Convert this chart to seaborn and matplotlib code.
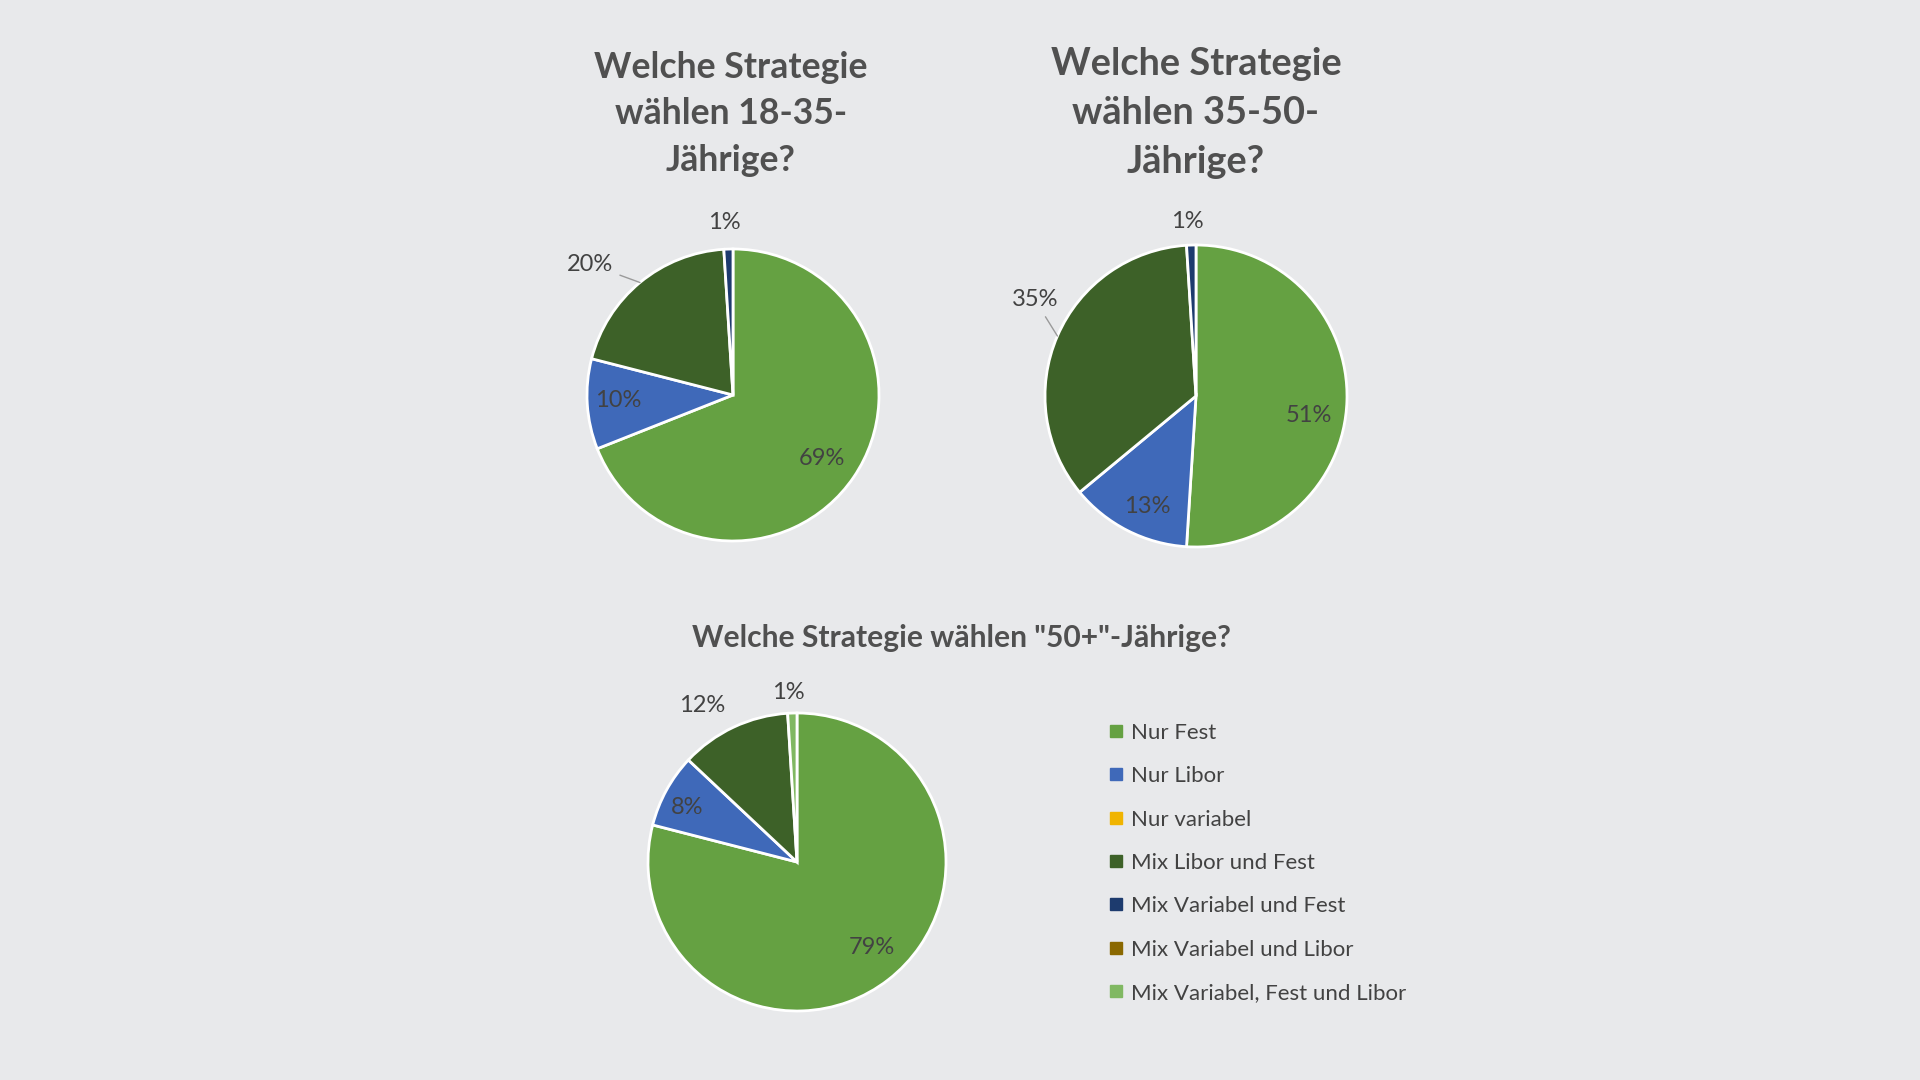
import numpy as np
import seaborn as sns
import matplotlib.pyplot as plt
from matplotlib.lines import Line2D

# categories and colours (Excel look)
categories = ['Nur Fest', 'Nur Libor', 'Nur variabel', 'Mix Libor und Fest',
              'Mix Variabel und Fest', 'Mix Variabel und Libor',
              'Mix Variabel, Fest und Libor']
colors = ['#65a142', '#3f69b9', '#f0b400', '#3d6128', '#1d3b6e', '#8a6800', '#80b862']

# shares in percent per age group
young = [69, 10, 0, 20, 1, 0, 0]
middle = [51, 13, 0, 35, 1, 0, 0]
senior = [79, 8, 0, 12, 0, 0, 1]

title_young = 'Welche Strategie\nwählen 18-35-\nJährige?'
title_middle = 'Welche Strategie\nwählen 35-50-\nJährige?'
title_senior = 'Welche Strategie wählen "50+"-Jährige?'

# label placement per slice: distance from centre (in radii, < 1 inside),
# angle nudge in degrees, leader line flag
dist_young = [0.75, 0.79, 0, 1.33, 1.18, 0, 0]
turn_young = [-1.5, -1, 0, 8, 1, 0, 0]
lead_young = [False, False, False, True, False, False, False]
dist_middle = [0.76, 0.80, 0, 1.245, 1.16, 0, 0]
turn_middle = [-8, 3, 0, -7.5, 1, 0, 0]
lead_middle = [False, False, False, True, False, False, False]
dist_senior = [0.76, 0.82, 0, 1.23, 0, 0, 1.14]
turn_senior = [3.5, 2.5, 0, 6, 0, 0, 1]
lead_senior = [False] * 7

BG = '#e8e9eb'
TXT = '#424242'
W, H = 1920, 1080

sns.set_theme(style='white', rc={'figure.facecolor': BG, 'axes.facecolor': BG})
plt.rcParams['font.family'] = ['Lato', 'DejaVu Sans']

fig = plt.figure(figsize=(19.2, 10.8), dpi=100)


def draw_pie(values, dists, turns, leads, cx, cy, r):
    ax = fig.add_axes([(cx - 1.5 * r) / W, 1 - (cy + 1.5 * r) / H, 3 * r / W, 3 * r / H])
    idx = [i for i, v in enumerate(values) if v > 0]
    wedges, _ = ax.pie([values[i] for i in idx], colors=[colors[i] for i in idx],
                       startangle=90, counterclock=False,
                       wedgeprops=dict(edgecolor='white', linewidth=2))
    ax.set_xlim(-1.5, 1.5)
    ax.set_ylim(-1.5, 1.5)
    ax.set_aspect('equal')
    ax.axis('off')
    for w, i in zip(wedges, idx):
        mid = np.deg2rad((w.theta1 + w.theta2) / 2)
        theta = mid + np.deg2rad(turns[i])
        d = dists[i]
        pos = (d * np.cos(theta), d * np.sin(theta))
        label = f'{values[i]}%'
        if leads[i]:
            ax.annotate(label, xy=(np.cos(mid), np.sin(mid)), xytext=pos,
                        ha='center', va='center', fontsize=17, color=TXT,
                        arrowprops=dict(arrowstyle='-', color='#9a9a9a', lw=1,
                                        shrinkA=3, shrinkB=0))
        else:
            ax.text(pos[0], pos[1], label, ha='center', va='center',
                    fontsize=17, color=TXT)
    return ax


draw_pie(young, dist_young, turn_young, lead_young, 733, 395, 146)
draw_pie(middle, dist_middle, turn_middle, lead_middle, 1196, 396, 151)
draw_pie(senior, dist_senior, turn_senior, lead_senior, 797, 862, 149)

fig.text(731 / W, 1 - 114 / H, title_young, ha='center', va='center',
         multialignment='center', fontsize=25.7, fontweight='bold', color='#505050',
         linespacing=1.5)
fig.text(1196 / W, 1 - 113 / H, title_middle, ha='center', va='center',
         multialignment='center', fontsize=27.3, fontweight='bold', color='#505050',
         linespacing=1.52)
fig.text(961 / W, 1 - 638 / H, title_senior, ha='center', va='center',
         fontsize=21.6, fontweight='bold', color='#505050')

handles = [Line2D([], [], marker='s', linestyle='', color=c, markersize=8) for c in colors]
fig.legend(handles, categories, loc='upper left', bbox_to_anchor=(1100 / W, 1 - 714 / H),
           frameon=False, fontsize=16, labelcolor=TXT, handlelength=0.6,
           handletextpad=0.4, labelspacing=1.05, borderaxespad=0)

fig.savefig('out.png', dpi=100, facecolor=BG)
